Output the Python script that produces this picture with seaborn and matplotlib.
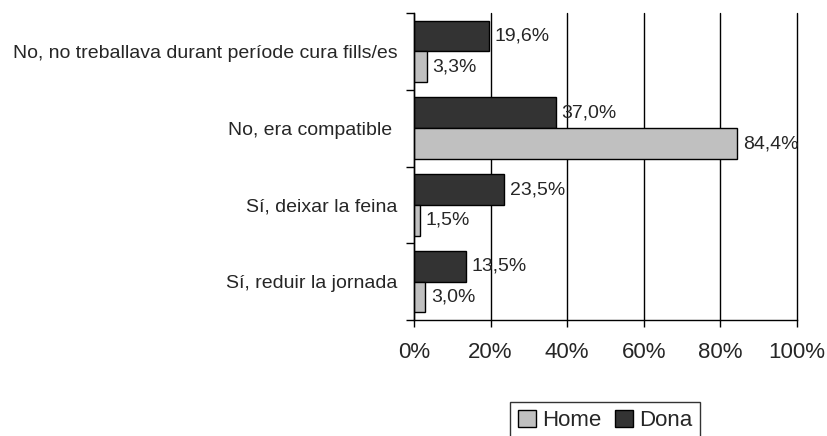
import seaborn as sns
import matplotlib.pyplot as plt
import pandas as pd
from matplotlib.patches import Patch

# dades
categories = ['No, no treballava durant període cura fills/es', 'No, era compatible ',
              'Sí, deixar la feina', 'Sí, reduir la jornada']
dona = [19.6, 37.0, 23.5, 13.5]
home = [3.3, 84.4, 1.5, 3.0]
series = ['Dona', 'Home']
colors = {'Dona': '#333333', 'Home': '#c0c0c0'}

df = pd.DataFrame({
    'cat': categories * 2,
    'serie': ['Dona'] * 4 + ['Home'] * 4,
    'valor': dona + home,
})

sns.set_style('white')
plt.rcParams['font.family'] = ['Liberation Sans Narrow', 'Liberation Sans', 'DejaVu Sans']

fig, ax = plt.subplots(figsize=(8.28, 4.36), dpi=100)
fig.subplots_adjust(left=0.5, right=0.9626, top=0.970, bottom=0.266)

sns.barplot(data=df, y='cat', x='valor', hue='serie', hue_order=series, order=categories,
            palette=colors, orient='h', width=0.8, edgecolor='black', linewidth=1,
            legend=False, ax=ax)

# etiquetes de valor
for cont in ax.containers:
    vals = cont.datavalues
    ax.bar_label(cont, labels=[f'{v:.1f}%'.replace('.', ',') for v in vals],
                 padding=4, fontsize=14)

ax.set_xlim(0, 100)
ax.set_ylim(3.5, -0.5)
ax.set_xticks([0, 20, 40, 60, 80, 100])
ax.set_xticklabels([f'{t}%' for t in [0, 20, 40, 60, 80, 100]], fontsize=16)
ax.tick_params(axis='x', length=5, width=1, color='black', direction='out', pad=11, bottom=True)
ax.set_yticks(range(4))
ax.set_yticklabels(categories, fontsize=14)
ax.tick_params(axis='y', length=0, pad=12)
ax.set_yticks([-0.5, 0.5, 1.5, 2.5, 3.5], minor=True)
ax.tick_params(axis='y', which='minor', length=6, width=1, color='black', left=True)
ax.xaxis.grid(True, color='black', linewidth=1)
for gl in ax.get_xgridlines():
    gl.set_clip_on(False)
ax.set_axisbelow(True)
ax.set_xlabel('')
ax.set_ylabel('')
for s in ['top', 'right']:
    ax.spines[s].set_visible(False)
for s in ['left', 'bottom']:
    ax.spines[s].set_color('black')
    ax.spines[s].set_linewidth(1)

handles = [Patch(facecolor=colors['Home'], edgecolor='black', label='Home'),
           Patch(facecolor=colors['Dona'], edgecolor='black', label='Dona')]
leg = fig.legend(handles=handles, loc='center', bbox_to_anchor=(0.731, 0.035), ncol=2,
                 fontsize=16, frameon=True, fancybox=False, handlelength=0.8, handleheight=0.8,
                 handletextpad=0.3, columnspacing=0.6, borderpad=0.35)
leg.get_frame().set_edgecolor('black')
leg.get_frame().set_linewidth(1)

fig.savefig('out.png', dpi=100)
